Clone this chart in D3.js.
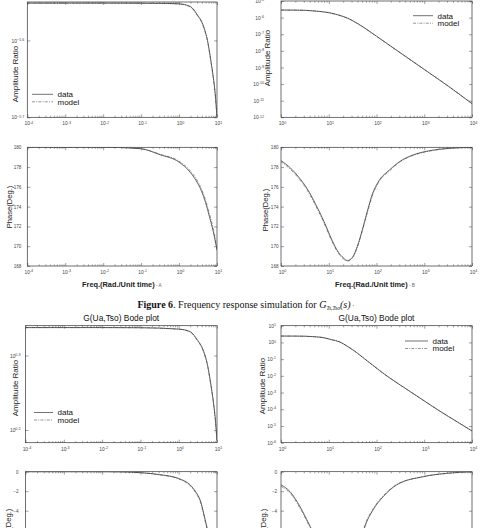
<!DOCTYPE html>
<html><head><meta charset="utf-8">
<script src="https://cdn.jsdelivr.net/npm/d3@7"></script>
<style>html,body{margin:0;padding:0;background:#fff;overflow:hidden}svg{display:block}</style>
</head><body>
<svg id="c" width="481" height="528"></svg>
<script>
// ---------------- DATA ----------------
// Figure 6, panel A (amplitude)
const freqMagA1 = [0.0001, 0.001, 0.01, 0.1, 0.316, 1, 1.995, 3.162, 3.981, 5.012, 5.623, 6.310, 7.079, 7.943, 8.913, 10];
const dataMagA1 = [2.809e-6, 2.809e-6, 2.809e-6, 2.808e-6, 2.807e-6, 2.803e-6, 2.780e-6, 2.704e-6, 2.655e-6, 2.570e-6, 2.512e-6, 2.432e-6, 2.344e-6, 2.254e-6, 2.148e-6, 1.995e-6];
const modelMagA1 = [2.809e-6, 2.809e-6, 2.809e-6, 2.808e-6, 2.806e-6, 2.801e-6, 2.776e-6, 2.698e-6, 2.648e-6, 2.562e-6, 2.505e-6, 2.426e-6, 2.338e-6, 2.249e-6, 2.143e-6, 1.990e-6];
// Figure 6, panel B (amplitude)
const freqMagB1 = [1, 1.995, 3.162, 5.012, 7.079, 10, 15.85, 25.12, 39.81, 63.10, 100, 199.5, 398.1, 1000, 3162, 10000];
const dataMagB1 = [2.851e-6, 2.818e-6, 2.754e-6, 2.512e-6, 2.291e-6, 1.995e-6, 1.445e-6, 9.12e-7, 4.467e-7, 1.905e-7, 7.59e-8, 1.905e-8, 4.786e-9, 7.59e-10, 7.59e-11, 6.61e-12];
const modelMagB1 = [2.860e-6, 2.820e-6, 2.750e-6, 2.500e-6, 2.280e-6, 1.980e-6, 1.430e-6, 9.00e-7, 4.42e-7, 1.89e-7, 7.55e-8, 1.90e-8, 4.78e-9, 7.60e-10, 7.62e-11, 6.70e-12];
// Figure 6, phase A
const freqPhA1 = [0.0001, 0.001, 0.01, 0.025, 0.1, 0.316, 1, 1.995, 3.162, 3.981, 5.012, 6.310, 7.943, 10];
const dataPhA1 = [180, 180, 180, 179.98, 179.85, 179.25, 178.5, 177.45, 176.3, 175.5, 174.4, 173.0, 171.5, 169.6];
const modelPhA1 = [180, 180, 180, 179.98, 179.86, 179.3, 178.6, 177.6, 176.5, 175.7, 174.65, 173.3, 171.8, 169.9];
// Figure 6, phase B
const freqPhB1 = [1, 1.585, 2.344, 3.548, 5.248, 7.943, 11.75, 15.85, 19.95, 24.55, 31.62, 39.81, 50.12, 63.10, 83.18, 112.2, 186.2, 316.2, 562.3, 1000, 2089, 5012, 10000];
const dataPhB1 = [178.65, 177.9, 177.0, 175.8, 174.3, 172.5, 170.6, 169.4, 168.85, 168.55, 168.9, 170.0, 171.6, 173.4, 175.35, 176.6, 177.7, 178.6, 179.2, 179.55, 179.8, 179.95, 180];
const modelPhB1 = [178.55, 177.75, 176.85, 175.65, 174.15, 172.35, 170.45, 169.3, 168.75, 168.5, 168.85, 169.9, 171.5, 173.25, 175.2, 176.5, 177.6, 178.55, 179.15, 179.5, 179.78, 179.95, 180];
// Figure 7 (G(Ua,Tso)), amplitude A
const freqMagA2 = [0.0001, 0.001, 0.01, 0.1, 1, 1.995, 3.162, 3.981, 5.012, 5.623, 6.310, 7.079, 7.943, 8.913, 10];
const dataMagA2 = [2.175, 2.175, 2.175, 2.174, 2.165, 2.148, 2.089, 2.051, 1.986, 1.941, 1.879, 1.811, 1.738, 1.652, 1.535];
const modelMagA2 = [2.175, 2.175, 2.175, 2.174, 2.164, 2.145, 2.085, 2.046, 1.981, 1.936, 1.874, 1.806, 1.733, 1.647, 1.530];
// amplitude B
const freqMagB2 = [1, 1.995, 3.162, 5.012, 7.586, 11.22, 16.98, 25.12, 38.02, 56.23, 83.18, 158.5, 416.9, 1000, 2089, 5012, 10000];
const dataMagB2 = [2.399, 2.388, 2.344, 2.188, 1.950, 1.479, 1.072, 0.5623, 0.2512, 0.1047, 0.04365, 0.01072, 1.660e-3, 3.162e-4, 7.94e-5, 1.698e-5, 5.01e-6];
const modelMagB2 = [2.405, 2.390, 2.340, 2.180, 1.940, 1.470, 1.065, 0.5580, 0.2490, 0.1040, 0.04340, 0.01068, 1.655e-3, 3.170e-4, 7.97e-5, 1.705e-5, 5.05e-6];
// phase A
const freqPhA2 = [0.0001, 0.001, 0.01, 0.0316, 0.1, 0.316, 1, 1.995, 2.818, 3.631, 4.898, 6.310, 7.943, 10];
const dataPhA2 = [0, 0, 0, -0.02, -0.1, -0.3, -0.7, -1.36, -2.1, -2.9, -4.9, -6.8, -8.8, -11.0];
const modelPhA2 = [0, 0, 0, -0.02, -0.1, -0.32, -0.75, -1.45, -2.2, -3.05, -5.05, -7.0, -9.0, -11.2];
// phase B
const freqPhB2 = [1, 1.549, 2.512, 4.074, 7.079, 12.59, 19.95, 25.12, 31.62, 39.81, 57.54, 85.11, 138.0, 263.0, 955.0, 2951, 10000];
const dataPhB2 = [-1.35, -2.05, -3.6, -5.6, -8.0, -10.3, -11.3, -11.45, -10.6, -8.6, -5.6, -3.9, -2.56, -1.36, -0.51, -0.17, 0];
const modelPhB2 = [-1.5, -2.2, -3.75, -5.75, -8.15, -10.4, -11.35, -11.45, -10.5, -8.45, -5.45, -3.8, -2.48, -1.32, -0.5, -0.17, 0];

const phaseTicks1 = [168, 170, 172, 174, 176, 178, 180];
const phaseTicks2 = [0, -2, -4, -6, -8, -10, -12];
const seriesNames = ["data", "model"];
const xLabelText = "Freq.(Rad./Unit time)";
const titleText2 = "G(Ua,Tso) Bode plot";

// ---------------- DRAWING ----------------
const FONT = "'Liberation Sans', Arial, Helvetica, sans-serif";
const SERIF = "'Liberation Serif', 'Times New Roman', serif";
const svg = d3.select("#c");
const defs = svg.append("defs");
let clipId = 0;

function pairs(xs, ys) { return xs.map((v, i) => [v, ys[i]]); }

function minorLog(lo, hi) {
  const out = [];
  for (let k = Math.floor(Math.log10(lo)); k < Math.ceil(Math.log10(hi)); k++) {
    for (let m = 2; m <= 9; m++) {
      const v = m * Math.pow(10, k);
      if (v > lo && v < hi) out.push(v);
    }
  }
  return out;
}
function majorLog(lo, hi) {
  const out = [];
  for (let k = Math.round(Math.log10(lo)); k <= Math.round(Math.log10(hi)); k++) out.push(Math.pow(10, k));
  return out;
}
function setSup(sel, expFn) {
  sel.each(function (d) {
    const t = d3.select(this);
    t.text(null);
    t.append("tspan").text("10");
    t.append("tspan").attr("font-size", 3.7).attr("dy", "-0.5em").text(expFn(d));
  });
}
function styleAxis(g) {
  g.attr("font-family", null).attr("font-size", null);
  g.select(".domain").remove();
  g.selectAll(".tick line").attr("stroke", "#444").attr("stroke-width", 0.5);
  g.selectAll(".tick text").attr("font-family", FONT).attr("font-size", 4.9).attr("fill", "#444");
}

function panel(p) {
  const x = d3.scaleLog().domain(p.xd).range([p.l, p.r]);
  const y = (p.ylog ? d3.scaleLog() : d3.scaleLinear()).domain(p.yd).range([p.b, p.t]);
  const g = svg.append("g");
  const id = "cp" + (clipId++);
  defs.append("clipPath").attr("id", id).append("rect")
    .attr("x", p.l).attr("y", p.t).attr("width", p.r - p.l).attr("height", p.b - p.t);

  const majX = majorLog(p.xd[0], p.xd[1]);
  const minX = minorLog(p.xd[0], p.xd[1]);
  const gb = g.append("g").attr("transform", `translate(0,${p.b})`)
    .call(d3.axisBottom(x).tickValues(majX).tickSize(-3).tickPadding(p.xpad));
  styleAxis(gb);
  setSup(gb.selectAll(".tick text"), d => Math.round(Math.log10(d)));
  gb.selectAll(".tick text").attr("dy", "0.75em").attr("dx", "0.2em");
  const gbm = g.append("g").attr("transform", `translate(0,${p.b})`)
    .call(d3.axisBottom(x).tickValues(minX).tickSize(-1.6).tickFormat(""));
  styleAxis(gbm);
  const gt = g.append("g").attr("transform", `translate(0,${p.t})`)
    .call(d3.axisTop(x).tickValues(majX).tickSize(-3).tickFormat(""));
  styleAxis(gt);
  const gtm = g.append("g").attr("transform", `translate(0,${p.t})`)
    .call(d3.axisTop(x).tickValues(minX).tickSize(-1.6).tickFormat(""));
  styleAxis(gtm);

  const gl = g.append("g").attr("transform", `translate(${p.l},0)`)
    .call(d3.axisLeft(y).tickValues(p.yticks).tickSize(-3).tickPadding(p.ypad));
  styleAxis(gl);
  if (p.ylog) setSup(gl.selectAll(".tick text"), p.yexp);
  else gl.selectAll(".tick text").text(d => d3.format("d")(d)).attr("font-size", 4.6);
  const gr = g.append("g").attr("transform", `translate(${p.r},0)`)
    .call(d3.axisRight(y).tickValues(p.yticks).tickSize(-3).tickFormat(""));
  styleAxis(gr);

  g.append("rect").attr("x", p.l).attr("y", p.t).attr("width", p.r - p.l).attr("height", p.b - p.t)
    .attr("fill", "none").attr("stroke", "#333").attr("stroke-width", 0.7);

  const line = d3.line().x(d => x(d[0])).y(d => y(d[1])).curve(d3.curveMonotoneX);
  const cg = g.append("g").attr("clip-path", `url(#${id})`);
  cg.append("path").attr("d", line(pairs(p.fx, p.model))).attr("fill", "none")
    .attr("stroke", "#8a8a8a").attr("stroke-width", 0.9).attr("stroke-dasharray", "3,1.2,1,1.2");
  cg.append("path").attr("d", line(pairs(p.fx, p.data))).attr("fill", "none")
    .attr("stroke", "#333").attr("stroke-width", 0.75);

  g.append("text").attr("transform", `translate(${p.ylx},${p.yly}) rotate(-90)`)
    .attr("text-anchor", "middle").attr("font-family", FONT).attr("font-size", p.ylfs || 8)
    .attr("fill", "#222").text(p.ylabel);

  if (p.legend) {
    const L = p.legend;
    const lg = g.append("g");
    lg.append("line").attr("x1", L.x1).attr("x2", L.x2).attr("y1", L.y).attr("y2", L.y)
      .attr("stroke", "#444").attr("stroke-width", 0.75);
    lg.append("line").attr("x1", L.x1).attr("x2", L.x2).attr("y1", L.y + 7.5).attr("y2", L.y + 7.5)
      .attr("stroke", "#8a8a8a").attr("stroke-width", 0.9).attr("stroke-dasharray", "3,1.2,1,1.2");
    seriesNames.forEach((s, i) => {
      lg.append("text").attr("x", L.x2 + 4.5).attr("y", L.y + 2.8 + i * 7.5)
        .attr("font-family", FONT).attr("font-size", 8).attr("fill", "#111").text(s);
    });
  }
  if (p.xlabel) {
    const t = g.append("text").attr("x", p.xlx).attr("y", p.xly).attr("text-anchor", "start")
      .attr("font-family", FONT).attr("font-size", 7.4).attr("font-weight", "bold").attr("fill", "#222");
    t.append("tspan").text(xLabelText);
    t.append("tspan").attr("font-size", 4.6).attr("font-weight", "normal").attr("fill", "#666").text("  - " + p.xlabel);
  }
  if (p.title) {
    g.append("text").attr("x", (p.l + p.r) / 2).attr("y", p.t - 5).attr("text-anchor", "middle")
      .attr("font-family", FONT).attr("font-size", 8.4).attr("fill", "#111").text(p.title);
  }
}

const L1 = 27.3, R1 = 217, L2 = 281, R2 = 472;
const LA = 25.5;

// Figure 6
panel({ l: L1, r: R1, t: 2, b: 117.3, xd: [1e-4, 10], ylog: true, yd: [Math.pow(10, -5.7), Math.pow(10, -5.55)],
  yticks: [Math.pow(10, -5.7), Math.pow(10, -5.6)], yexp: d => d3.format(".1f")(Math.log10(d)), ypad: 3,
  xpad: 4.5, fx: freqMagA1, data: dataMagA1, model: modelMagA1, ylabel: "Amplitude Ratio", ylx: 17.5, yly: 74,
  legend: { x1: 32, x2: 53, y: 94.3 } });
panel({ l: L2, r: R2, t: 1, b: 117.3, xd: [1, 1e4], ylog: true, yd: [1e-12, 1e-5],
  yticks: [1e-12, 1e-11, 1e-10, 1e-9, 1e-8, 1e-7, 1e-6, 1e-5], yexp: d => Math.round(Math.log10(d)), ypad: 17,
  xpad: 4.5, fx: freqMagB1, data: dataMagB1, model: modelMagB1, ylabel: "Amplitude Ratio", ylx: 270, yly: 58,
  legend: { x1: 413, x2: 433, y: 15.7 } });
panel({ l: L1, r: R1, t: 147.3, b: 266, xd: [1e-4, 10], ylog: false, yd: [168, 180], yticks: phaseTicks1, ypad: 6,
  xpad: 4, fx: freqPhA1, data: dataPhA1, model: modelPhA1, ylabel: "Phase(Deg.)", ylx: 12, yly: 207, ylfs: 7.6,
  xlabel: "A", xlx: 82, xly: 287 });
panel({ l: L2, r: R2, t: 147.3, b: 266, xd: [1, 1e4], ylog: false, yd: [168, 180], yticks: phaseTicks1, ypad: 2.5,
  xpad: 4, fx: freqPhB1, data: dataPhB1, model: modelPhB1, ylabel: "Phase(Deg.)", ylx: 268, yly: 210, ylfs: 7.6,
  xlabel: "B", xlx: 335, xly: 287 });

// Caption
const cap = svg.append("text").attr("x", 246).attr("y", 308).attr("text-anchor", "middle")
  .attr("font-family", SERIF).attr("font-size", 10).attr("fill", "#111");
cap.append("tspan").attr("font-weight", "bold").text("Figure 6");
cap.append("tspan").text(". Frequency response simulation for ");
cap.append("tspan").attr("font-style", "italic").text("G");
cap.append("tspan").attr("font-style", "italic").attr("font-size", 5.5).attr("dy", 2).text("Ts,Tso");
cap.append("tspan").attr("font-style", "italic").attr("dy", -2).text("(s)");
cap.append("tspan").attr("font-size", 7).text(" \u00b7");

// Figure 7
panel({ l: LA, r: R1, t: 325.7, b: 442.7, xd: [1e-4, 10], ylog: true, yd: [Math.pow(10, 0.183), Math.pow(10, 0.34)],
  yticks: [Math.pow(10, 0.2), Math.pow(10, 0.3)], yexp: d => d3.format(".1f")(Math.log10(d)), ypad: 5,
  xpad: 4.5, fx: freqMagA2, data: dataMagA2, model: modelMagA2, ylabel: "Amplitude Ratio", ylx: 17.5, yly: 388,
  legend: { x1: 34, x2: 53, y: 412.5 }, title: titleText2 });
panel({ l: L2, r: R2, t: 325.7, b: 442.7, xd: [1, 1e4], ylog: true, yd: [1e-6, 10],
  yticks: [1e-6, 1e-5, 1e-4, 1e-3, 1e-2, 1e-1, 1, 10], yexp: d => Math.round(Math.log10(d)), ypad: 5,
  xpad: 4.5, fx: freqMagB2, data: dataMagB2, model: modelMagB2, ylabel: "Amplitude Ratio", ylx: 265, yly: 386,
  legend: { x1: 405, x2: 428, y: 341 }, title: titleText2 });
panel({ l: LA, r: R1, t: 471.7, b: 588.7, xd: [1e-4, 10], ylog: false, yd: [-12, 0], yticks: phaseTicks2, ypad: 7,
  xpad: 4, fx: freqPhA2, data: dataPhA2, model: modelPhA2, ylabel: "Phase(Deg.)", ylx: 11, yly: 530, ylfs: 7.6 });
panel({ l: L2, r: R2, t: 471.7, b: 588.7, xd: [1, 1e4], ylog: false, yd: [-12, 0], yticks: phaseTicks2, ypad: 4,
  xpad: 4, fx: freqPhB2, data: dataPhB2, model: modelPhB2, ylabel: "Phase(Deg.)", ylx: 266, yly: 530, ylfs: 7.6 });
</script>
</body></html>
